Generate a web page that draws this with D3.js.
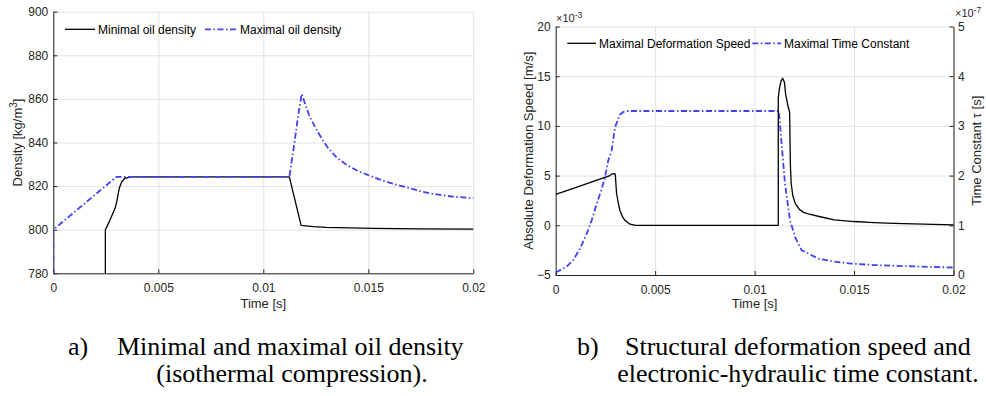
<!DOCTYPE html>
<html>
<head>
<meta charset="utf-8">
<script src="https://cdn.jsdelivr.net/npm/d3@7"></script>
<style>
  body { margin: 0; background: #fff; }
  svg { display: block; font-family: "Liberation Sans", Arial, sans-serif; }
  .caption { font-family: "Liberation Serif", "Times New Roman", serif; font-size: 26px; fill: #000; }
</style>
</head>
<body>
<svg id="fig" width="986" height="396"></svg>
<script>
// ---- panel a) oil density [kg/m^3] over time [s]
const tMin = [0.00248, 0.00248, 0.0027, 0.00294, 0.00302, 0.00314, 0.00326, 0.00341, 0.0037,
  0.01124, 0.0118, 0.01238, 0.013, 0.01524, 0.0175, 0.02];
const minDensity = [780, 800, 804.4, 809.8, 812.8, 819, 822, 823.6, 824.2,
  824.2, 802, 801.4, 801.1, 800.6, 800.4, 800.3];

const tMax = [0, 0, 0.003, 0.01124, 0.0115, 0.01165, 0.01183, 0.01207, 0.0122, 0.0125,
  0.0128, 0.0131, 0.0135, 0.014, 0.0145, 0.015, 0.0155, 0.016, 0.0165, 0.017,
  0.0175, 0.018, 0.0185, 0.019, 0.0195, 0.02];
const maxDensity = [780, 800, 824.2, 824.2, 841, 851.8, 862.3, 855.5, 852, 846.5,
  841.5, 837.3, 833, 829.5, 827, 825, 823.2, 821.6, 820.2, 819,
  817.6, 816.6, 815.8, 815.2, 814.8, 814.4];

// ---- panel b) deformation speed [x1e-3 m/s] and time constant [x1e-7 s]
const tSpeed = [0, 0.001, 0.002, 0.00273, 0.0028, 0.00298, 0.003, 0.00306, 0.00315, 0.00323,
  0.00335, 0.00348, 0.0037, 0.004, 0.01119, 0.01119, 0.01125, 0.01133, 0.01141, 0.0115,
  0.01156, 0.01169, 0.01176, 0.0118, 0.01184, 0.01192, 0.01204, 0.01225, 0.01246, 0.0127,
  0.0133, 0.014, 0.015, 0.016, 0.017, 0.018, 0.019, 0.02];
const speed = [3.1, 3.8, 4.5, 5.0, 5.15, 5.2, 5.0, 3.2, 2.2, 1.5,
  0.9, 0.5, 0.15, 0, 0, 12.8, 13.8, 14.5, 14.8, 14.4,
  13.2, 11.9, 11.4, 6.0, 4.2, 3.0, 2.2, 1.6, 1.3, 1.15,
  0.86, 0.55, 0.38, 0.27, 0.2, 0.14, 0.09, 0.05];

const tTau = [0, 0.00055, 0.00088, 0.00122, 0.00156, 0.00181, 0.00206, 0.00231, 0.00248, 0.00264,
  0.00281, 0.00298, 0.00323, 0.0034, 0.00357, 0.01122, 0.01136, 0.01153, 0.01178, 0.01205,
  0.01236, 0.0132, 0.014, 0.01487, 0.016, 0.0174, 0.02];
const tau = [0.05, 0.17, 0.3, 0.53, 0.83, 1.1, 1.43, 1.73, 1.97, 2.3,
  2.5, 2.97, 3.23, 3.28, 3.3, 3.3, 2.63, 1.83, 1.1, 0.75,
  0.5, 0.33, 0.27, 0.23, 0.2, 0.18, 0.15];

const timeTicks = [0, 0.005, 0.01, 0.015, 0.02];
const densityTicks = [780, 800, 820, 840, 860, 880, 900];
const speedTicks = [-5, 0, 5, 10, 15, 20];
const tauTicks = [0, 1, 2, 3, 4, 5];

const svg = d3.select("#fig");
const axisColor = "#262626";
const gridColor = "#e2e2e2";
const blue = "#4040f6";
const dashDot = "6,2.5,1.5,2.5";

const boxA = { left: 53.3, right: 473.3, top: 11.7, bottom: 273.3 };
const boxB = { left: 555.7, right: 953.5, top: 26.5, bottom: 275 };

const xA = d3.scaleLinear().domain([0, 0.02]).range([boxA.left, boxA.right]);
const yA = d3.scaleLinear().domain([780, 900]).range([boxA.bottom, boxA.top]);
const xB = d3.scaleLinear().domain([0, 0.02]).range([boxB.left, boxB.right]);
const yB = d3.scaleLinear().domain([-5, 20]).range([boxB.bottom, boxB.top]);
const yB2 = d3.scaleLinear().domain([0, 5]).range([boxB.bottom, boxB.top]);

const timeFmt = d => d === 0 ? "0" : String(+d.toFixed(3));

function drawGrid(x, y, box, yTicks) {
  const g = svg.append("g");
  g.append("g")
    .attr("transform", `translate(0,${box.bottom})`)
    .call(d3.axisBottom(x).tickValues(timeTicks).tickSize(-(box.bottom - box.top)).tickFormat(""))
    .call(a => a.select(".domain").remove());
  g.append("g")
    .attr("transform", `translate(${box.left},0)`)
    .call(d3.axisLeft(y).tickValues(yTicks).tickSize(-(box.right - box.left)).tickFormat(""))
    .call(a => a.select(".domain").remove());
  g.selectAll("line").attr("stroke", gridColor).attr("stroke-width", 1);
}

function styleAxis(a) {
  a.select(".domain").attr("stroke", axisColor);
  a.selectAll(".tick line").attr("stroke", axisColor);
  a.selectAll("text").attr("fill", axisColor).attr("font-size", 12)
    .attr("font-family", "Liberation Sans, Arial, sans-serif");
}

function clip(id, box) {
  svg.append("clipPath").attr("id", id)
    .append("rect")
    .attr("x", box.left).attr("y", box.top - 2)
    .attr("width", box.right - box.left + 1).attr("height", box.bottom - box.top + 3);
}

function drawLine(ts, vs, x, y, clipId, color, dash, w) {
  const line = d3.line().x((d, i) => x(ts[i])).y(d => y(d));
  svg.append("path")
    .datum(vs)
    .attr("clip-path", `url(#${clipId})`)
    .attr("d", line)
    .attr("fill", "none")
    .attr("stroke", color)
    .attr("stroke-width", w)
    .attr("stroke-dasharray", dash)
    .attr("stroke-linejoin", "round");
}

function legendItem(x1, x2, y, label, color, dash, w) {
  svg.append("line")
    .attr("x1", x1).attr("x2", x2).attr("y1", y).attr("y2", y)
    .attr("stroke", color).attr("stroke-width", w).attr("stroke-dasharray", dash);
  svg.append("text")
    .attr("x", x2 + 3).attr("y", y + 4.2)
    .attr("font-size", 12).attr("fill", "#000")
    .text(label);
}

// ================= panel a
drawGrid(xA, yA, boxA, densityTicks);
clip("clipA", boxA);

svg.append("g")
  .attr("transform", `translate(0,${boxA.bottom})`)
  .call(d3.axisBottom(xA).tickValues(timeTicks).tickFormat(timeFmt).tickSizeInner(-4).tickSizeOuter(0).tickPadding(10))
  .call(styleAxis);
svg.append("g")
  .attr("transform", `translate(${boxA.left},0)`)
  .call(d3.axisLeft(yA).tickValues(densityTicks).tickFormat(d3.format("d")).tickSizeInner(-4).tickSizeOuter(0).tickPadding(5))
  .call(styleAxis);

drawLine(tMin, minDensity, xA, yA, "clipA", "#000", null, 1.3);
drawLine(tMax, maxDensity, xA, yA, "clipA", blue, dashDot, 1.8);

legendItem(65, 95, 29.3, "Minimal oil density", "#000", null, 1.3);
legendItem(205, 237, 29.3, "Maximal oil density", blue, dashDot, 1.8);

svg.append("text")
  .attr("x", (boxA.left + boxA.right) / 2).attr("y", 308)
  .attr("text-anchor", "middle").attr("font-size", 13).attr("fill", axisColor)
  .text("Time [s]");

const densLabel = svg.append("text")
  .attr("transform", `translate(21.5,${(boxA.top + boxA.bottom) / 2}) rotate(-90)`)
  .attr("text-anchor", "middle").attr("font-size", 13).attr("fill", axisColor);
densLabel.append("tspan").text("Density [kg/m");
densLabel.append("tspan").attr("font-size", 10).attr("dy", -5).text("3");
densLabel.append("tspan").attr("dy", 5).text("]");

// ================= panel b
drawGrid(xB, yB, boxB, speedTicks);
clip("clipB", boxB);

svg.append("g")
  .attr("transform", `translate(0,${boxB.bottom})`)
  .call(d3.axisBottom(xB).tickValues(timeTicks).tickFormat(timeFmt).tickSizeInner(-4).tickSizeOuter(0).tickPadding(10))
  .call(styleAxis);
svg.append("g")
  .attr("transform", `translate(${boxB.left},0)`)
  .call(d3.axisLeft(yB).tickValues(speedTicks).tickFormat(d3.format("d")).tickSizeInner(-4).tickSizeOuter(0).tickPadding(5))
  .call(styleAxis);
svg.append("g")
  .attr("transform", `translate(${boxB.right},0)`)
  .call(d3.axisRight(yB2).tickValues(tauTicks).tickFormat(d3.format("d")).tickSizeInner(-4).tickSizeOuter(0).tickPadding(4.5))
  .call(styleAxis);

drawLine(tTau, tau, xB, yB2, "clipB", blue, dashDot, 1.8);
drawLine(tSpeed, speed, xB, yB, "clipB", "#000", null, 1.3);

legendItem(567.3, 596, 43.3, "Maximal Deformation Speed", "#000", null, 1.3);
legendItem(752.3, 781, 43.3, "Maximal Time Constant", blue, dashDot, 1.8);

svg.append("text")
  .attr("x", (boxB.left + boxB.right) / 2).attr("y", 308)
  .attr("text-anchor", "middle").attr("font-size", 13).attr("fill", axisColor)
  .text("Time [s]");

svg.append("text")
  .attr("transform", `translate(533,${(boxB.top + boxB.bottom) / 2}) rotate(-90)`)
  .attr("text-anchor", "middle").attr("font-size", 13).attr("fill", axisColor)
  .text("Absolute Deformation Speed [m/s]");

svg.append("text")
  .attr("transform", `translate(981,${(boxB.top + boxB.bottom) / 2}) rotate(-90)`)
  .attr("text-anchor", "middle").attr("font-size", 13).attr("fill", axisColor)
  .text("Time Constant \u03c4 [s]");

// exponent labels
function exponent(x, y, pow) {
  const t = svg.append("text").attr("x", x).attr("y", y)
    .attr("font-size", 11).attr("fill", axisColor);
  t.append("tspan").text("\u00d710");
  t.append("tspan").attr("font-size", 8.5).attr("dy", -4.5).text(pow);
}
exponent(556, 22, "-3");
exponent(955, 17, "-7");

// ================= captions
const captions = [
  { x: 68, label: "a)", textX: 117, line1: "Minimal and maximal oil density", line2X: 292, line2: "(isothermal compression)." },
  { x: 577, label: "b)", textX: 625, line1: "Structural deformation speed and", line2X: 798, line2: "electronic-hydraulic time constant." }
];
captions.forEach(c => {
  svg.append("text").attr("class", "caption").attr("x", c.x).attr("y", 355).text(c.label);
  svg.append("text").attr("class", "caption").attr("x", c.textX).attr("y", 355).text(c.line1);
  svg.append("text").attr("class", "caption").attr("x", c.line2X).attr("y", 382)
    .attr("text-anchor", "middle").text(c.line2);
});
</script>
</body>
</html>
